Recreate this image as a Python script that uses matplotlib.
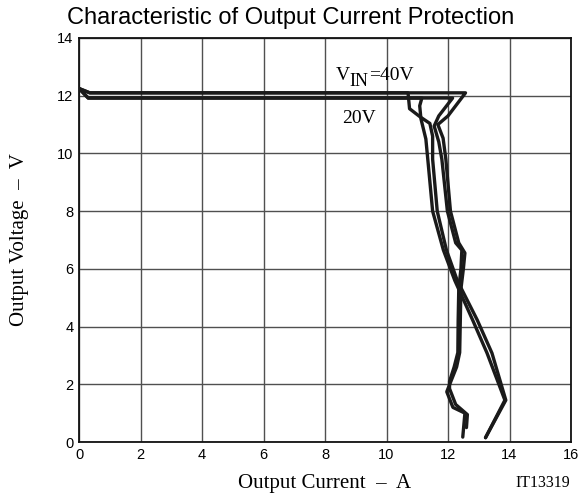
import matplotlib
matplotlib.use("Agg")
import matplotlib.pyplot as plt

# ---- data ----
# 40 V, early fold-back branch
l1_x = [0.0, 0.35, 10.7, 10.75, 11.09, 11.41, 11.5, 11.5, 11.65, 11.95, 12.3, 12.95, 13.43, 13.88, 13.22]
l1_y = [12.25, 12.1, 12.1, 11.55, 11.27, 11.04, 10.6, 9.8, 8.0, 6.65, 5.6, 4.23, 3.08, 1.45, 0.15]
# 20 V, early fold-back branch
l2_x = [0.0, 0.3, 11.15, 11.08, 11.12, 11.28, 11.36, 11.5, 11.85, 12.22, 12.8, 13.27, 13.85, 13.22]
l2_y = [12.25, 11.92, 11.92, 11.65, 11.2, 10.5, 9.6, 8.0, 6.65, 5.6, 4.23, 3.08, 1.45, 0.15]
# 40 V, full-current branch
r1_x = [0.0, 0.35, 12.57, 12.0, 11.67, 11.84, 11.93, 12.08, 12.35, 12.55, 12.5, 12.42, 12.4, 12.38, 12.28, 12.0, 11.96, 12.16, 12.55, 12.48]
r1_y = [12.25, 12.1, 12.1, 11.3, 11.0, 10.53, 9.8, 8.0, 6.9, 6.55, 6.0, 5.3, 4.2, 3.1, 2.6, 1.85, 1.74, 1.2, 1.0, 0.17]
# 20 V, full-current branch
r2_x = [0.0, 0.3, 12.15, 11.7, 11.55, 11.7, 11.8, 11.98, 12.25, 12.45, 12.42, 12.35, 12.33, 12.32, 12.2, 12.05, 12.05, 12.25, 12.63, 12.6]
r2_y = [12.25, 11.92, 11.92, 11.3, 10.95, 10.4, 9.8, 8.0, 6.9, 6.65, 6.0, 5.3, 4.2, 3.1, 2.6, 2.1, 1.85, 1.3, 0.95, 0.5]

x_ticks = [0, 2, 4, 6, 8, 10, 12, 14, 16]
y_ticks = [0, 2, 4, 6, 8, 10, 12, 14]

fig = plt.figure(figsize=(5.8, 4.96), dpi=100)
ax = fig.add_axes([79/580, (496-442)/496, (571-79)/580, (442-38)/496])

for xs, ys in [(l1_x, l1_y), (l2_x, l2_y), (r1_x, r1_y), (r2_x, r2_y)]:
    ax.plot(xs, ys, color='#1a1a1a', lw=2.4, solid_joinstyle='round', solid_capstyle='round', zorder=3)

ax.set_xlim(0, 16)
ax.set_ylim(0, 14)
ax.set_xticks(x_ticks)
ax.set_yticks(y_ticks)
ax.grid(True, color='#505050', lw=1.0, zorder=1)
for s in ax.spines.values():
    s.set_linewidth(1.3)
    s.set_color('#111111')
ax.tick_params(length=0, labelsize=10.5, pad=4)
for lab in ax.get_xticklabels() + ax.get_yticklabels():
    lab.set_fontfamily('Liberation Sans')

serif = 'Liberation Serif'
ax.set_xlabel('Output Current  –  A', fontfamily=serif, fontsize=15, labelpad=9)
ax.set_ylabel('Output Voltage  –  V', fontfamily=serif, fontsize=15, labelpad=20)

# V_IN = 40V label built from pieces
ax.annotate('V', xy=(8.36, 12.55), fontfamily=serif, fontsize=14, ha='left', va='baseline')
ax.annotate('IN', xy=(8.36, 12.55), xytext=(9.5, -4.5), textcoords='offset points',
            fontfamily=serif, fontsize=13, ha='left', va='baseline')
ax.annotate('=40V', xy=(8.36, 12.55), xytext=(24, 0), textcoords='offset points',
            fontfamily=serif, fontsize=14, ha='left', va='baseline')
ax.text(8.55, 11.05, '20V', fontfamily=serif, fontsize=14, ha='left', va='baseline')

fig.text(570/580, 1 - 487/496, 'IT13319', fontfamily=serif, fontsize=11.5, ha='right', va='baseline')
fig.text(291/580, 1 - 24/496, 'Characteristic of Output Current Protection', fontfamily='Liberation Sans',
         fontsize=17, ha='center', va='baseline')

fig.savefig('out.png', dpi=100)
